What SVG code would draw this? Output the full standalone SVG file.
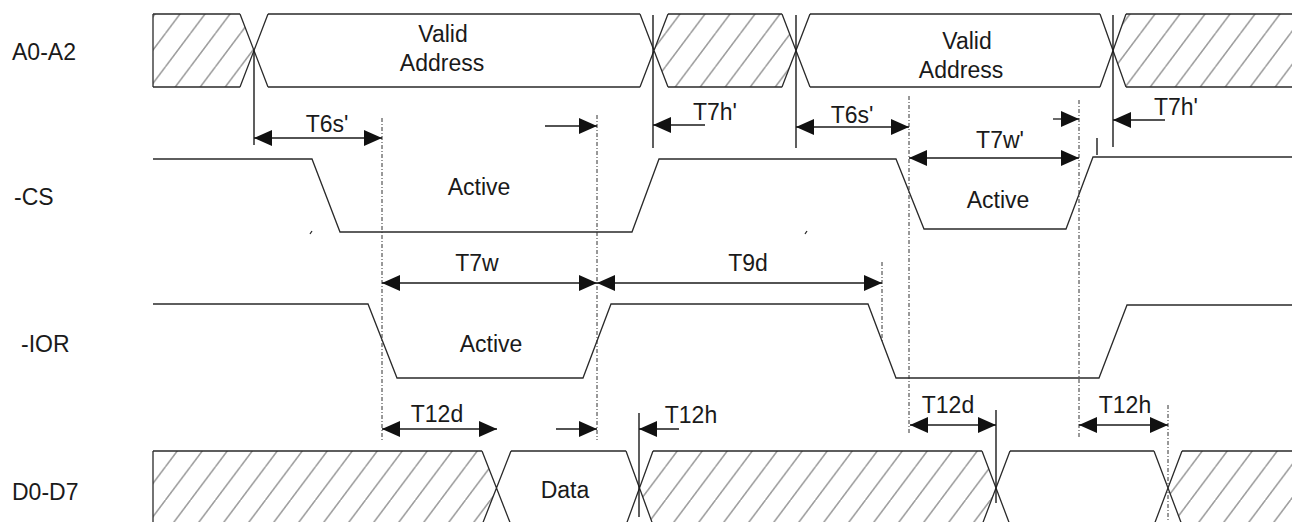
<svg xmlns="http://www.w3.org/2000/svg" width="1292" height="522" viewBox="0 0 1292 522">
<style>
text{font-family:"Liberation Sans",Arial,sans-serif;font-size:23px;fill:#1a1a1a}
.c{text-anchor:middle}
.sig{fill:none;stroke:#2a2a2a;stroke-width:1.3}
.hat{fill:url(#hatch);stroke:none}
.vl{stroke:#1a1a1a;stroke-width:1.4}
.dl{stroke:#333;stroke-width:1;stroke-dasharray:4 2 1 2}
.ar{stroke:#1a1a1a;stroke-width:1.3;fill:none}
.a2{marker-start:url(#ah);marker-end:url(#ah)}
.ae{marker-end:url(#ah)}
</style>
<defs>
<pattern id="hatch" patternUnits="userSpaceOnUse" x="15.5" y="0" width="25" height="33.333">
<path d="M-2,36 L27,-2.667" stroke="#2a2a2a" stroke-width="0.9" fill="none"/>
</pattern>
<marker id="ah" markerUnits="userSpaceOnUse" viewBox="0 0 18 16" markerWidth="18" markerHeight="16" refX="18" refY="8" orient="auto-start-reverse">
<path d="M0,0 L18,8 L0,16 z" fill="#111"/>
</marker>
</defs>
<rect width="1292" height="522" fill="#fff"/>

<g id="labels">
<text x="12" y="60">A0-A2</text>
<text x="14" y="205">-CS</text>
<text x="21" y="352">-IOR</text>
<text x="12" y="500">D0-D7</text>
</g>

<g id="bus-a">
<polygon class="hat" points="153,14 240,14 254,50.5 240,87 153,87"/>
<polygon class="hat" points="668,14 782,14 796,50.5 782,87 668,87 654,50.5"/>
<polygon class="hat" points="1126,14 1300,14 1300,87 1126,87 1113,50.5"/>
<path class="sig" d="M153,14 V87 M153,14 H240 M153,87 H240 M240,14 L268,87 M240,87 L268,14 M268,14 H640 M268,87 H640 M640,14 L668,87 M640,87 L668,14 M668,14 H782 M668,87 H782 M782,14 L810,87 M782,87 L810,14 M810,14 H1100 M810,87 H1100 M1100,14 L1126,87 M1100,87 L1126,14 M1126,14 H1292 M1126,87 H1292"/>
<text class="c" x="443" y="42">Valid</text>
<text class="c" x="442" y="71">Address</text>
<text class="c" x="967" y="49">Valid</text>
<text class="c" x="961" y="78">Address</text>
</g>

<g id="sig-cs">
<path class="sig" d="M153,159 H312 L340,232 H632 L659,159 H896 L924,229 H1066 L1093,157 H1292"/>
<path class="sig" d="M310,234 L312,231 M805,234 L807,231" stroke-width="1"/>
<text class="c" x="479" y="195">Active</text>
<text class="c" x="998" y="208">Active</text>
</g>

<g id="sig-ior">
<path class="sig" d="M153,304 H368 L397,378 H583 L611,304 H868 L896,378 H1099 L1127,305 H1292"/>
<text class="c" x="491" y="352">Active</text>
</g>

<g id="bus-d">
<polygon class="hat" points="153,451 482,451 496.5,488 482,525 153,525"/>
<polygon class="hat" points="653,451 982,451 996,488 982,525 653,525 639.5,488"/>
<polygon class="hat" points="1182,451 1300,451 1300,525 1182,525 1168,488"/>
<path class="sig" d="M153,451 V525 M153,451 H482 M482,451 L511,525 M482,525 L511,451 M511,451 H626 M626,451 L653,525 M626,525 L653,451 M653,451 H982 M982,451 L1010,525 M982,525 L1010,451 M1010,451 H1154 M1154,451 L1182,525 M1154,525 L1182,451 M1182,451 H1292"/>
<text class="c" x="565" y="498">Data</text>
</g>

<g id="connectors">
<line class="vl" x1="254" y1="50" x2="254" y2="145"/>
<line class="vl" x1="653" y1="15" x2="653" y2="148"/>
<line class="vl" x1="796" y1="15" x2="796" y2="148"/>
<line class="vl" x1="1113" y1="15" x2="1113" y2="147"/>
<line class="vl" x1="1097" y1="138" x2="1097" y2="155" stroke-width="1"/>
<line class="vl" x1="639" y1="413" x2="639" y2="517"/>
<line class="vl" x1="996" y1="410" x2="996" y2="503"/>
<line class="dl" x1="382" y1="118" x2="382" y2="442"/>
<line class="dl" x1="597" y1="115" x2="597" y2="440"/>
<line class="dl" x1="909" y1="96" x2="909" y2="433"/>
<line class="dl" x1="1079" y1="100" x2="1079" y2="438"/>
<line class="dl" x1="882" y1="262" x2="882" y2="342"/>
<line class="dl" x1="1168" y1="405" x2="1168" y2="522"/>

<line class="ar a2" x1="254" y1="138" x2="382" y2="138"/>
<line class="ar ae" x1="545" y1="126" x2="597" y2="126"/>
<line class="ar ae" x1="705" y1="125" x2="653" y2="125"/>
<line class="ar a2" x1="796" y1="127" x2="909" y2="127"/>
<line class="ar ae" x1="1053" y1="119" x2="1079" y2="119"/>
<line class="ar ae" x1="1165" y1="120" x2="1113" y2="120"/>
<line class="ar a2" x1="909" y1="158" x2="1079" y2="158"/>
<line class="ar a2" x1="382" y1="283" x2="597" y2="283"/>
<line class="ar a2" x1="597" y1="283" x2="882" y2="283"/>
<line class="ar a2" x1="382" y1="429" x2="497" y2="429"/>
<line class="ar ae" x1="556" y1="429" x2="597" y2="429"/>
<line class="ar ae" x1="679" y1="429" x2="639" y2="429"/>
<line class="ar a2" x1="910" y1="425" x2="996" y2="425"/>
<line class="ar a2" x1="1079" y1="425" x2="1168" y2="425"/>

<text class="c" x="327" y="132">T6s'</text>
<text class="c" x="715" y="120">T7h'</text>
<text class="c" x="852" y="123">T6s'</text>
<text class="c" x="1176" y="115">T7h'</text>
<text class="c" x="1000" y="148">T7w'</text>
<text class="c" x="477" y="271">T7w</text>
<text class="c" x="748" y="271">T9d</text>
<text class="c" x="437" y="422">T12d</text>
<text class="c" x="691" y="423">T12h</text>
<text class="c" x="948" y="413">T12d</text>
<text class="c" x="1125" y="413">T12h</text>
</g>
</svg>
